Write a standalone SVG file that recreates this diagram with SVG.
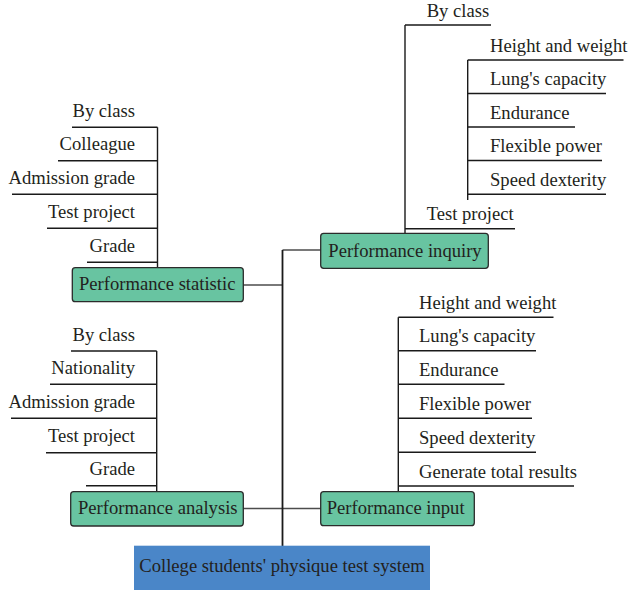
<svg xmlns="http://www.w3.org/2000/svg" width="631" height="591" viewBox="0 0 631 591">
<style>
text{font-family:"Liberation Serif","DejaVu Serif",serif;font-size:18.6px;fill:#231f20}
.e{text-anchor:end}
.m{text-anchor:middle}
.t{fill:none;stroke:#1a1a1a;stroke-width:1.4}
.v{fill:none;stroke:#1a1a1a;stroke-width:1.8}
.c{fill:none;stroke:#4d4d4d;stroke-width:1.3}
.g{fill:#68c4a1;stroke:#2b2b2b;stroke-width:1.3}
.b{fill:#4a86c8;stroke:none}
</style>
<rect width="631" height="591" fill="#fff"/>
<g id="connectors">
<path class="c" d="M243 285H282.5M282.5 250H321M243 508.5H321"/>
<path class="v" d="M282.5 250V546"/>
<path class="t" d="M157.5 127.3V268M72 127.3H157.5M58 160.7H157.5M12 194.3H157.5M47 228.3H157.5M87 262.3H157.5"/>
<path class="t" d="M405 25V233.5M405 25H491M405 228.7H515M467.7 60V200M467.7 60H623.5M467.7 93.5H606M467.7 127H575M467.7 160.5H602M467.7 194.3H606"/>
<path class="t" d="M156.7 351V492M71 351H156.7M50 384.3H156.7M11 418.3H156.7M46 452.7H156.7M86 485.7H156.7"/>
<path class="t" d="M398.3 317.3V492M398.3 317.3H553.5M398.3 350.7H536M398.3 384.3H504.5M398.3 418.3H532M398.3 452.3H536M398.3 486H574"/>
</g>
<g id="stat-leaves">
<text class="e" x="135" y="116.7">By class</text>
<text class="e" x="135" y="150.2">Colleague</text>
<text class="e" x="135" y="183.8">Admission grade</text>
<text class="e" x="135" y="217.8">Test project</text>
<text class="e" x="135" y="251.8">Grade</text>
</g>
<g id="performance-statistic">
<rect class="g" x="72.3" y="267.7" width="171" height="34" rx="3"/>
<text x="79" y="289.5">Performance statistic</text>
</g>
<g id="inquiry-leaves">
<text x="426.7" y="16.7">By class</text>
<text x="490" y="51.5">Height and weight</text>
<text x="490" y="85">Lung's capacity</text>
<text x="490" y="118.5">Endurance</text>
<text x="490" y="152">Flexible power</text>
<text x="490" y="185.8">Speed dexterity</text>
<text x="426.7" y="220.2">Test project</text>
</g>
<g id="performance-inquiry">
<rect class="g" x="320.7" y="233.3" width="167.6" height="35" rx="3"/>
<text x="328.3" y="256.7">Performance inquiry</text>
</g>
<g id="analysis-leaves">
<text class="e" x="135" y="340.5">By class</text>
<text class="e" x="135" y="373.8">Nationality</text>
<text class="e" x="135" y="407.8">Admission grade</text>
<text class="e" x="135" y="442.2">Test project</text>
<text class="e" x="135" y="475.2">Grade</text>
</g>
<g id="performance-analysis">
<rect class="g" x="70.7" y="491.7" width="172.6" height="34.3" rx="3"/>
<text x="78" y="513.5">Performance analysis</text>
</g>
<g id="input-leaves">
<text x="419" y="308.5">Height and weight</text>
<text x="419" y="342.2">Lung's capacity</text>
<text x="419" y="375.8">Endurance</text>
<text x="419" y="409.8">Flexible power</text>
<text x="419" y="443.8">Speed dexterity</text>
<text x="419" y="477.5">Generate total results</text>
</g>
<g id="performance-input">
<rect class="g" x="320.7" y="491.7" width="153.6" height="34" rx="3"/>
<text x="326.7" y="513.5">Performance input</text>
</g>
<g id="college-system">
<rect class="b" x="134" y="545.7" width="296" height="44.3"/>
<text class="m" x="282" y="572">College students' physique test system</text>
</g>
</svg>
